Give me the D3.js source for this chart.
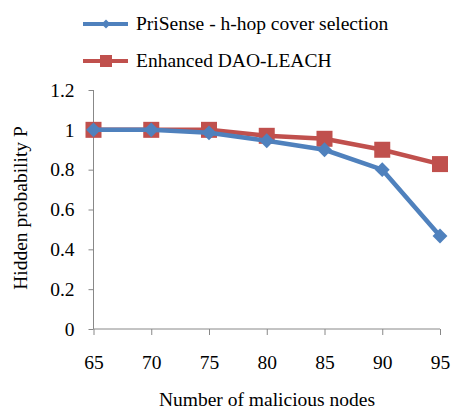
<!DOCTYPE html>
<html>
<head>
<meta charset="utf-8">
<script src="https://cdn.jsdelivr.net/npm/d3@7"></script>
<style>
body{margin:0;background:#fff;}
text{font-family:"Liberation Serif","Times New Roman",serif;fill:#000;}
</style>
</head>
<body>
<svg id="svg"></svg>
<script>
var width = 453, height = 411;

var nodes = [65, 70, 75, 80, 85, 90, 95];
var priSense = [1, 1, 0.985, 0.945, 0.9, 0.8, 0.467];
var daoLeach = [1, 1, 1, 0.97, 0.955, 0.9, 0.828];
var yTicks = [0, 0.2, 0.4, 0.6, 0.8, 1, 1.2];
var seriesNames = ["PriSense - h-hop cover selection", "Enhanced DAO-LEACH"];
var colors = ["#4F81BD", "#C0504D"];

var svg = d3.select('#svg').attr('width', width).attr('height', height);

var x = d3.scaleLinear().domain([65, 95]).range([93.5, 440]);
var y = d3.scaleLinear().domain([0, 1.2]).range([329, 90]);

// y axis
var yAxis = svg.append('g').attr('transform', 'translate(93.5,0)')
  .call(d3.axisLeft(y).tickValues(yTicks).tickSize(5).tickPadding(14)
    .tickFormat(function(d){ return d === 0 || d === 1 ? d : d3.format('.1f')(d); }));
yAxis.selectAll('path, line').attr('stroke', '#888');
yAxis.select('.domain').attr('d', 'M0,' + y(1.2) + 'V' + y(0));
yAxis.selectAll('text').style('font-size', '19.5px').style('font-family', '"Liberation Serif",serif');

// x axis
var xAxis = svg.append('g').attr('transform', 'translate(0,329)')
  .call(d3.axisBottom(x).tickValues(nodes).tickSize(6).tickPadding(20));
xAxis.selectAll('path, line').attr('stroke', '#888');
xAxis.select('.domain').attr('d', 'M' + x(65) + ',0H' + x(95));
xAxis.selectAll('text').style('font-size', '19.5px').style('font-family', '"Liberation Serif",serif');

// titles
svg.append('text').attr('x', 267).attr('y', 406).attr('text-anchor', 'middle')
  .style('font-size', '19.5px').text('Number of malicious nodes');
svg.append('text').attr('transform', 'translate(27,208) rotate(-90)').attr('text-anchor', 'middle')
  .style('font-size', '19.5px').text('Hidden probability P');

var line = d3.line().x(function(d, i){ return x(nodes[i]); }).y(function(d){ return y(d); });

// red series
svg.append('path').datum(daoLeach).attr('d', line).attr('fill', 'none')
  .attr('stroke', colors[1]).attr('stroke-width', 4.5);
svg.selectAll('.sq').data(daoLeach).join('rect').attr('class', 'sq')
  .attr('x', function(d, i){ return x(nodes[i]) - 8; })
  .attr('y', function(d){ return y(d) - 8; })
  .attr('width', 16).attr('height', 16).attr('fill', colors[1]);

// blue series
svg.append('path').datum(priSense).attr('d', line).attr('fill', 'none')
  .attr('stroke', colors[0]).attr('stroke-width', 4.5);
var diamond = d3.symbol().type(d3.symbolSquare).size(110);
svg.selectAll('.dm').data(priSense).join('path').attr('class', 'dm')
  .attr('d', diamond)
  .attr('transform', function(d, i){ return 'translate(' + x(nodes[i]) + ',' + y(d) + ') rotate(45)'; })
  .attr('fill', colors[0]);

// legend
var legend = svg.append('g');
[24, 61].forEach(function(ly, i){
  legend.append('line').attr('x1', 83).attr('x2', 128).attr('y1', ly).attr('y2', ly)
    .attr('stroke', colors[i]).attr('stroke-width', 4);
  if (i === 0) {
    legend.append('path').attr('d', d3.symbol().type(d3.symbolSquare).size(40))
      .attr('transform', 'translate(106,' + ly + ') rotate(45)').attr('fill', colors[0]);
  } else {
    legend.append('rect').attr('x', 100).attr('y', ly - 6).attr('width', 12).attr('height', 12)
      .attr('fill', colors[1]);
  }
  legend.append('text').attr('x', 136).attr('y', ly + 6).style('font-size', '19.5px')
    .text(seriesNames[i]);
});
</script>
</body>
</html>
